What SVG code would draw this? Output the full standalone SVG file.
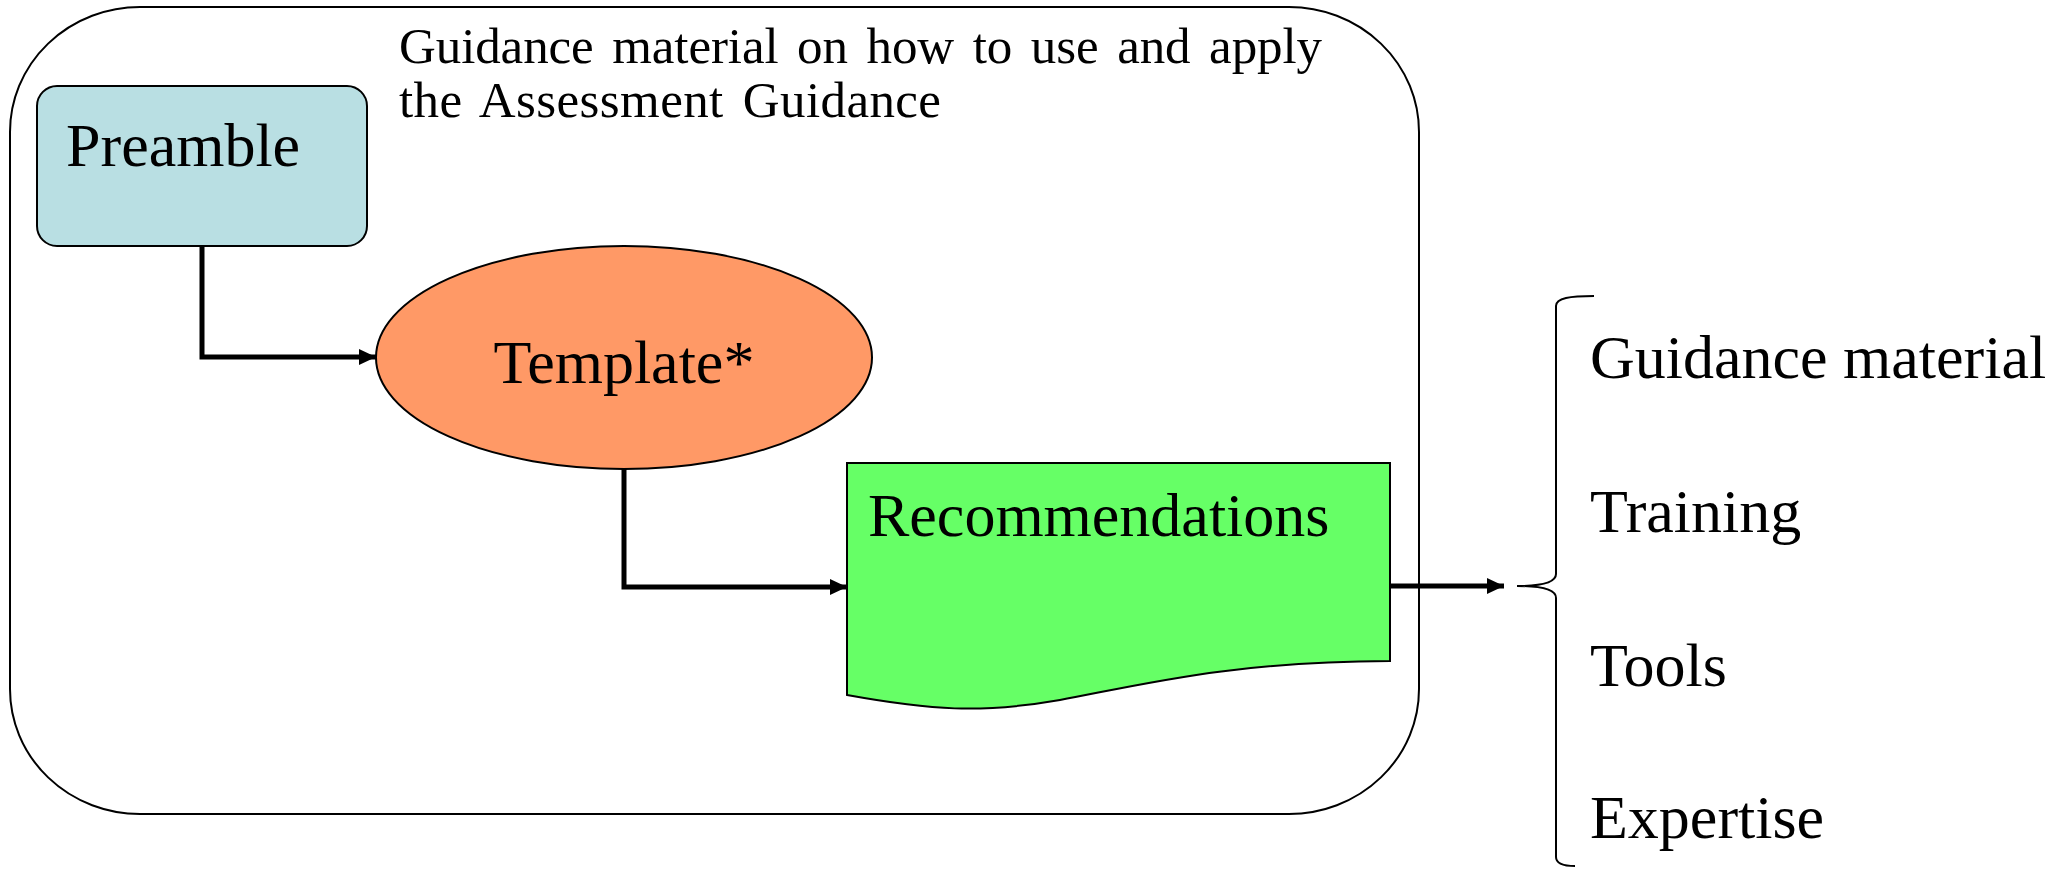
<svg xmlns="http://www.w3.org/2000/svg" width="2049" height="869" viewBox="0 0 2049 869">
<style>
text{font-family:"Liberation Serif","Times New Roman",serif;fill:#000}
.big{font-size:62px}
.hdr{font-size:51px}
.shape{stroke:#000;stroke-width:2}
.conn{fill:none;stroke:#000;stroke-width:5}
</style>
<defs>
<marker id="ah" markerUnits="userSpaceOnUse" markerWidth="19" markerHeight="18" refX="17" refY="9" orient="auto">
<path d="M0,1 L17,9 L0,17 Z" fill="#000"/>
</marker>
</defs>
<rect width="2049" height="869" fill="#fff"/>
<g id="container">
<rect x="10" y="7" width="1409" height="807" rx="130" ry="125" fill="#fff" stroke="#000" stroke-width="2"/>
<text class="hdr" x="399" y="63" textLength="923" word-spacing="6">Guidance material on how to use and apply</text>
<text class="hdr" x="399" y="117" textLength="542" word-spacing="6">the Assessment Guidance</text>
</g>
<g id="preamble">
<rect class="shape" x="37" y="86" width="330" height="160" rx="20" ry="20" fill="#B9DFE3"/>
<text class="big" x="66" y="166">Preamble</text>
</g>
<g id="template">
<ellipse class="shape" cx="624" cy="357.5" rx="248" ry="111.5" fill="#FF9966"/>
<text class="big" x="624" y="383" text-anchor="middle">Template*</text>
</g>
<g id="recommendations">
<path class="shape" d="M847,463 L1390,463 L1390,661 C1230,662 1150,683 1060,700 C 980,714 930,710 847,695 Z" fill="#66FF66"/>
<text class="big" x="868" y="536">Recommendations</text>
</g>
<g id="connectors">
<path class="conn" d="M202,246 L202,357 L376,357" marker-end="url(#ah)"/>
<path class="conn" d="M624,469 L624,587 L847,587" marker-end="url(#ah)"/>
<path class="conn" d="M1390,586 L1504,586" marker-end="url(#ah)"/>
</g>
<g id="brace">
<path d="M1594,296 C1570,296 1556,298 1556,306 L1556,574 C1556,583 1540,586 1517,586 C1540,586 1556,589 1556,598 L1556,857 C1556,864 1565,866 1575,866" fill="none" stroke="#000" stroke-width="2"/>
</g>
<g id="list">
<text class="big" x="1590" y="378">Guidance material</text>
<text class="big" x="1590" y="532">Training</text>
<text class="big" x="1590" y="686">Tools</text>
<text class="big" x="1590" y="838">Expertise</text>
</g>
</svg>
